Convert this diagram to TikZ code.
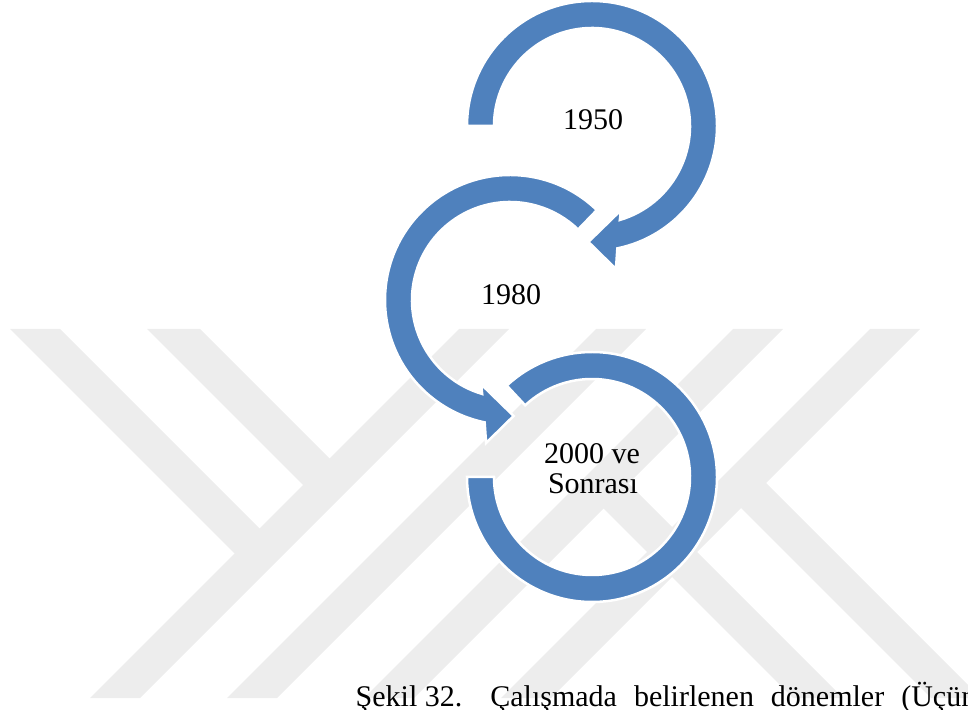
\documentclass[tikz,border=0pt]{standalone}
\usepackage{fontspec}
\setmainfont{Liberation Serif}
\definecolor{arrowblue}{RGB}{79,129,189}
\definecolor{wmgray}{RGB}{237,237,237}
\tikzset{
  wmband/.style={fill=wmgray, draw=none},
  ringshape/.style={fill=arrowblue, draw=white, line width=2.5pt, line join=miter},
  lbl/.style={font=\fontsize{30}{30}\selectfont, inner sep=0pt, text=black},
  captext/.style={font=\fontsize{30}{30}\selectfont, inner sep=0pt, text=black}
}
\begin{document}
\begin{tikzpicture}[x=1pt,y=1pt]
\useasboundingbox (0,0) rectangle (968,709);
\clip (0,0) rectangle (968,709);
% watermark bands
\fill[wmband] (90,11) -- (140,11) -- (509,380) -- (459,380) -- cycle;
\fill[wmband] (227,11) -- (277,11) -- (646,380) -- (596,380) -- cycle;
\fill[wmband] (364,11) -- (414,11) -- (783,380) -- (733,380) -- cycle;
\fill[wmband] (501,11) -- (551,11) -- (920,380) -- (870,380) -- cycle;
\fill[wmband] (10,380) -- (60,380) -- (272,168) -- (247,143) -- cycle;
\fill[wmband] (147,380) -- (200,380) -- (342,238) -- (315.5,211.5) -- cycle;
\fill[wmband] (728.5,213.5) -- (753.5,238.5) -- (981,11) -- (931,11) -- cycle;
\fill[wmband] (591,213) -- (616,238) -- (843,11) -- (793,11) -- cycle;
% arrow 1
\begin{scope}[shift={(592,583)}]
\path[ringshape] (180:125) arc[start angle=180, end angle=-78.3, radius=125]
  -- (-80.5:145) -- (-91.8:116) -- (-71:89) -- (-73.5:98)
  arc[start angle=-73.5, end angle=180, radius=98] -- cycle;
\end{scope}
% arrow 2
\begin{scope}[shift={(510,409)}]
\path[ringshape] (46:125) arc[start angle=46, end angle=258.3, radius=125]
  -- (260.5:145) -- (271.8:116) -- (251:89) -- (253.5:98)
  arc[start angle=253.5, end angle=46, radius=98] -- cycle;
\end{scope}
% ring 3
\begin{scope}[shift={(592,232)}]
\path[ringshape] (180:125) arc[start angle=180, end angle=493, radius=125]
  -- (493:98) arc[start angle=493, end angle=180, radius=98] -- cycle;
\end{scope}
% labels
\node[lbl, anchor=base] (t1) at (593,579.5) {1950};
\node[lbl, anchor=base] (t2) at (511,404) {1980};
\node[lbl, anchor=base] (t3a) at (592,245) {2000 ve};
\node[lbl, anchor=base] (t3b) at (593,215) {Sonrası};
% caption
\node[captext, anchor=base west] (cap) at (355.5,3)
  {Şekil 32.\hspace{28pt}Çalışmada\hspace{17pt}belirlenen\hspace{17pt}dönemler\hspace{17pt}(Üçüncü};
\end{tikzpicture}
\end{document}
